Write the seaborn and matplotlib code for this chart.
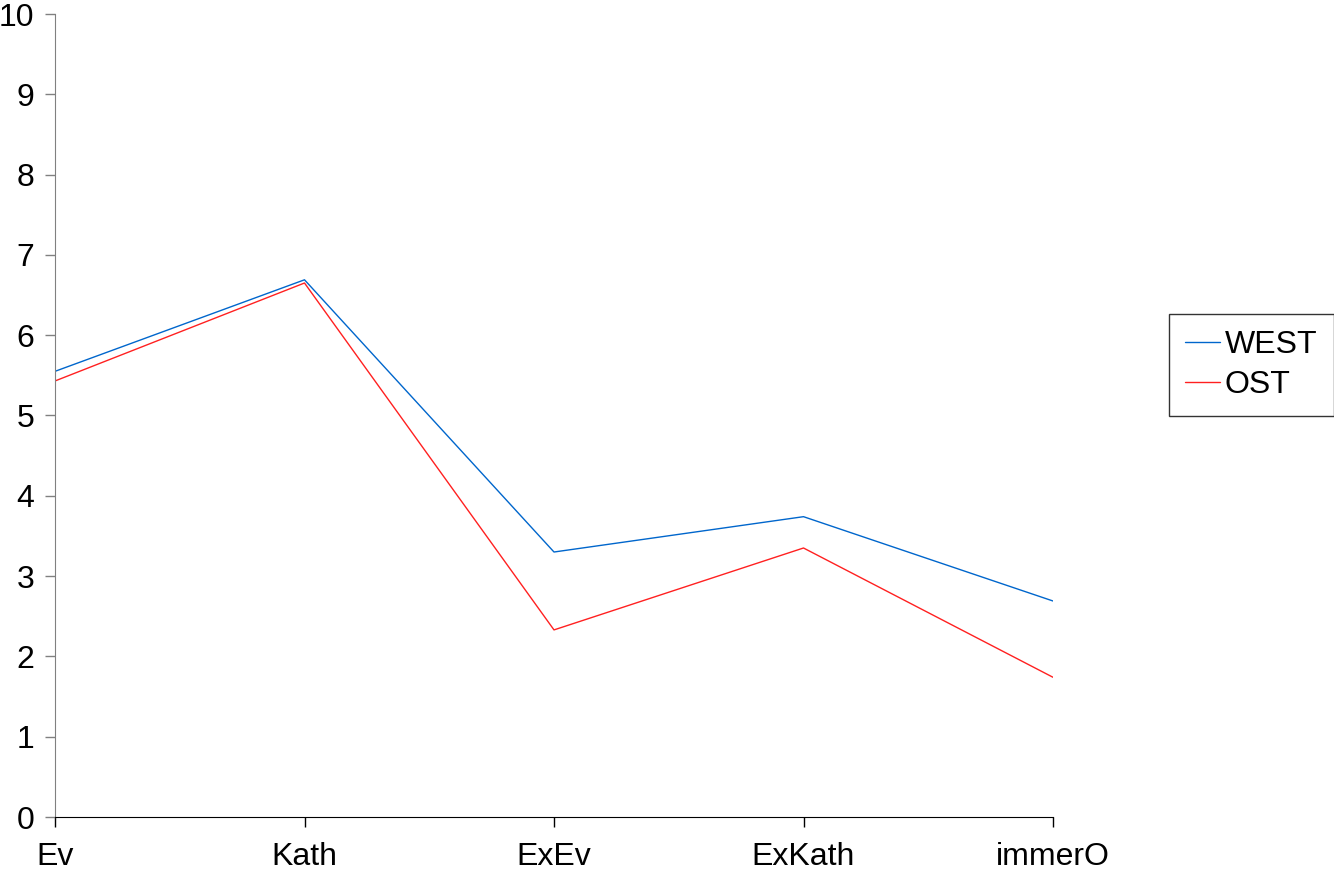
import pandas as pd
import matplotlib
matplotlib.use("Agg")
import matplotlib.pyplot as plt
import seaborn as sns

# ─── Data ────────────────────────────────────────────────────────────────────
categories = ["Ev", "Kath", "ExEv", "ExKath", "immerO"]
west = [5.55, 6.69, 3.30, 3.74, 2.69]
ost = [5.43, 6.65, 2.33, 3.35, 1.74]
y_ticks = list(range(0, 11))

df = pd.DataFrame({
    "cat": categories * 2,
    "pos": list(range(len(categories))) * 2,
    "value": west + ost,
    "group": ["WEST"] * len(categories) + ["OST"] * len(categories),
})

# ─── Styling ─────────────────────────────────────────────────────────────────
sns.set_style("white")
plt.rcParams["font.family"] = ["Liberation Sans", "DejaVu Sans"]
plt.rcParams["text.color"] = "black"
plt.rcParams["xtick.labelcolor"] = "black"
plt.rcParams["ytick.labelcolor"] = "black"

fig = plt.figure(figsize=(13.34, 8.72), dpi=100)
ax = fig.add_axes([55 / 1334, 55 / 872, 998 / 1334, 803 / 872])

sns.lineplot(data=df, x="pos", y="value", hue="group",
             palette={"WEST": "#0066CC", "OST": "#FF2020"},
             linewidth=1.0, ax=ax, legend=False)

ax.set_xlim(0, len(categories) - 1)
ax.set_ylim(0, 10)
ax.set_xticks(range(len(categories)))
ax.set_xticklabels(categories)
ax.set_yticks(y_ticks)
ax.set_xlabel("")
ax.set_ylabel("")

for side in ["top", "right"]:
    ax.spines[side].set_visible(False)
ax.spines["left"].set_color("#808080")
ax.spines["bottom"].set_color("black")
ax.tick_params(axis="y", direction="out", length=7, width=1, color="#808080",
               labelsize=23, pad=8, left=True, labelcolor="black")
ax.tick_params(axis="x", direction="out", length=7, width=1, color="black",
               labelsize=23, pad=11, bottom=True, labelcolor="black")

# legend built from the drawn lines
handles = ax.get_lines()[:2]
leg = fig.legend(handles, ["WEST", "OST"], loc="center left",
                 bbox_to_anchor=(1169 / 1334, 1 - 365 / 872),
                 fontsize=23, frameon=True, fancybox=False, shadow=False,
                 handlelength=1.1, handletextpad=0.15, borderpad=0.5,
                 labelspacing=0.3, borderaxespad=0)
leg.get_frame().set_edgecolor("black")
leg.get_frame().set_linewidth(1)
for t in leg.get_texts():
    t.set_color("black")

fig.savefig("out.png", dpi=100)
